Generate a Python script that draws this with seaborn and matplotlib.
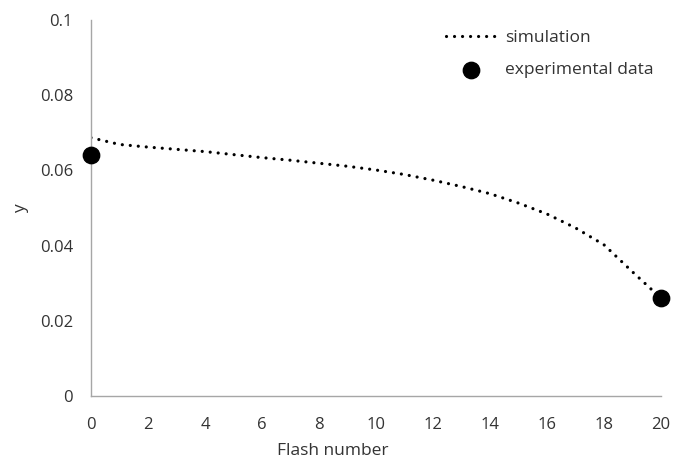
import matplotlib
matplotlib.use("Agg")
import matplotlib.pyplot as plt
import seaborn as sns
import pandas as pd

flash_sim = list(range(0, 21))
y_sim = [0.0687, 0.0669, 0.0662, 0.0656, 0.0650, 0.0642, 0.0634, 0.0627, 0.0619, 0.0611,
         0.0601, 0.0589, 0.0574, 0.0557, 0.0538, 0.0513, 0.0484, 0.0447, 0.0402, 0.0330, 0.0260]
flash_exp = [0, 20]
y_exp = [0.064, 0.026]
x_ticks = list(range(0, 21, 2))
y_ticks = [0, 0.02, 0.04, 0.06, 0.08, 0.1]
y_tick_labels = ["0", "0.02", "0.04", "0.06", "0.08", "0.1"]

sns.set_theme(style="white")
plt.rcParams['font.family'] = ['Open Sans', 'DejaVu Sans']

fig = plt.figure(figsize=(6.86, 4.59), dpi=100)
ax = fig.add_axes([0.1327, 0.1373, 0.8309, 0.8191])

sim = pd.DataFrame({"x": flash_sim, "y": y_sim})
exp = pd.DataFrame({"x": flash_exp, "y": y_exp})

sns.lineplot(data=sim, x="x", y="y", ax=ax, color="black", linewidth=2.3,
             linestyle=(0, (0.01, 2.5)), label="simulation")
for l in ax.get_lines():
    l.set_dash_capstyle("round")
sns.scatterplot(data=exp, x="x", y="y", ax=ax, color="black", s=140,
                edgecolor="black", zorder=5, label="experimental data", clip_on=False)

txt = "#333333"
ax.set_xlim(0, 20)
ax.set_ylim(0, 0.1)
ax.set_xticks(x_ticks)
ax.set_yticks(y_ticks)
ax.set_yticklabels(y_tick_labels)
ax.tick_params(axis="both", length=0, labelsize=12, colors=txt)
ax.tick_params(axis="x", pad=15)
ax.tick_params(axis="y", pad=13)
for side in ["top", "right"]:
    ax.spines[side].set_visible(False)
for side in ["left", "bottom"]:
    ax.spines[side].set_color("#A6A6A6")
    ax.spines[side].set_linewidth(1.0)
ax.set_xlabel("Flash number", fontsize=12.5, color=txt)
ax.set_ylabel("y", fontsize=12.5, color=txt)
ax.xaxis.set_label_coords(0.4246, -0.125)
ax.yaxis.set_label_coords(-0.109, 0.497)

leg = ax.legend(loc="upper left", bbox_to_anchor=(0.595, 1.016), frameon=False,
                fontsize=12.5, handlelength=2.9, handletextpad=0.5, labelspacing=0.95)
for t in leg.get_texts():
    t.set_color(txt)
for h in leg.legend_handles:
    try:
        h.set_dash_capstyle("round")
    except Exception:
        pass

fig.savefig("out.png", dpi=100)
